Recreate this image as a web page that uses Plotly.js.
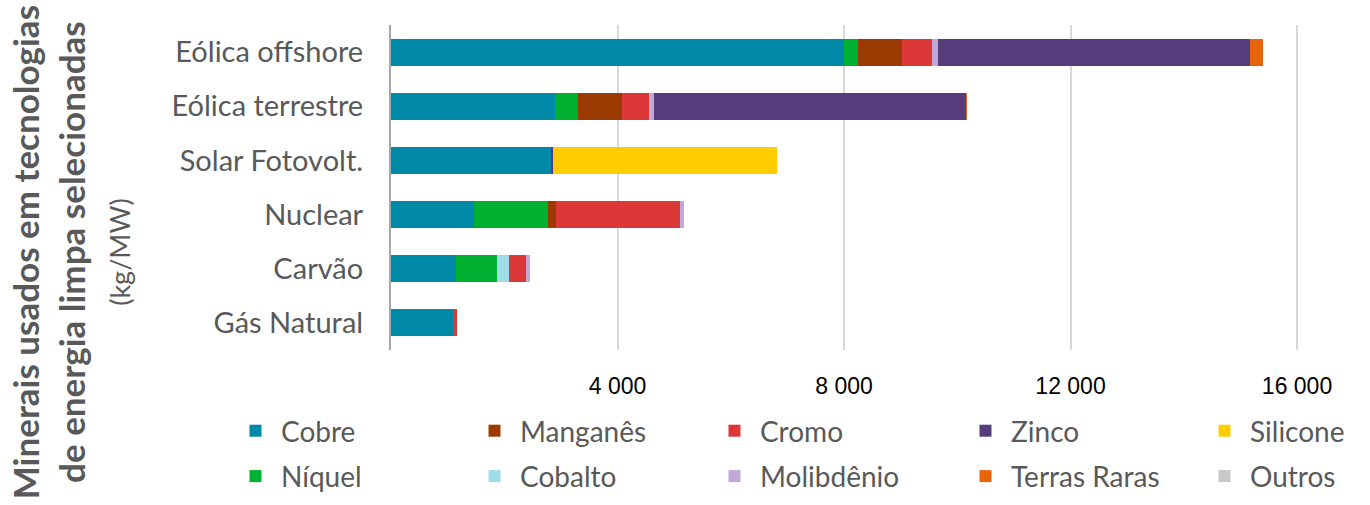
<!DOCTYPE html>
<html>
<head>
<meta charset="utf-8">
<script src="https://cdn.plot.ly/plotly-3.0.1.min.js"></script>
<style>html,body{margin:0;padding:0;background:#fff;}#chart{width:1370px;height:505px;}</style>
</head>
<body>
<div id="chart"></div>
<script>
const categories = ["Eólica offshore", "Eólica terrestre", "Solar Fotovolt.", "Nuclear", "Carvão", "Gás Natural"];
const cobre      = [8000, 2900, 2822, 1473, 1150, 1100];
const niquel     = [240, 404, 0, 1297, 721, 16];
const manganes   = [790, 780, 0, 148, 0, 0];
const cobalto    = [0, 0, 0, 0, 210, 0];
const cromo      = [525, 470, 0, 2190, 308, 48];
const molibdenio = [109, 99, 0, 70, 66, 0];
const zinco      = [5500, 5500, 30, 0, 0, 0];
const terrasRaras = [239, 14, 0, 0, 0, 0];
const silicone   = [0, 0, 3960, 0, 0, 0];
const outros     = [0, 0, 0, 0, 0, 0];
const tickVals = [4000, 8000, 12000, 16000];

// legend column (1..5) and row (1..2) for each series
const series = [
  {name: "Cobre", values: cobre, color: "#0089A7", col: 1, row: 1},
  {name: "Níquel", values: niquel, color: "#00B030", col: 1, row: 2},
  {name: "Manganês", values: manganes, color: "#9C3A04", col: 2, row: 1},
  {name: "Cobalto", values: cobalto, color: "#9EDCE8", col: 2, row: 2},
  {name: "Cromo", values: cromo, color: "#DC3838", col: 3, row: 1},
  {name: "Molibdênio", values: molibdenio, color: "#C0A8D8", col: 3, row: 2},
  {name: "Zinco", values: zinco, color: "#553C7A", col: 4, row: 1},
  {name: "Terras Raras", values: terrasRaras, color: "#E8640A", col: 4, row: 2},
  {name: "Silicone", values: silicone, color: "#FFCC00", col: 5, row: 1},
  {name: "Outros", values: outros, color: "#C8C8C8", col: 5, row: 2}
];

const legendIds = ["legend", "legend2", "legend3", "legend4", "legend5"];

const traces = series.map(s => ({
  type: "bar",
  orientation: "h",
  name: s.name,
  x: s.values,
  y: categories,
  marker: {color: s.color, line: {width: 0}},
  legend: legendIds[s.col - 1],
  legendgroup: s.name,
  legendrank: s.row,
  hoverinfo: "x+name"
}));

const legendFont = {family: "Lato, 'Open Sans', sans-serif", size: 28, color: "#595959"};
const colLeft = [230, 469, 709, 960, 1199];
const legendLayout = {};
colLeft.forEach((px, i) => {
  legendLayout[legendIds[i]] = {
    orientation: "v",
    font: legendFont,
    itemwidth: 41,
    tracegroupgap: 6,
    xref: "container",
    yref: "container",
    x: px / 1370,
    xanchor: "left",
    y: 1 - 406 / 505,
    yanchor: "top",
    traceorder: "grouped",
    bgcolor: "rgba(0,0,0,0)",
    borderwidth: 0
  };
});

const layout = Object.assign({
  width: 1370,
  height: 505,
  margin: {l: 391, r: 56, t: 25, b: 155, autoexpand: false},
  paper_bgcolor: "#fff",
  plot_bgcolor: "#fff",
  barmode: "stack",
  bargap: 0.5,
  showlegend: true,
  separators: ", ",
  xaxis: {
    range: [0, 16300],
    tickvals: tickVals,
    tickformat: ",d",
    showgrid: true,
    gridcolor: "#D9D9D9",
    gridwidth: 2,
    zeroline: false,
    showline: false,
    ticks: "",
    ticklabelstandoff: 20,
    tickfont: {family: "'Liberation Sans', Arial, sans-serif", size: 23, color: "#000"}
  },
  yaxis: {
    autorange: "reversed",
    showline: true,
    linecolor: "#A6A6A6",
    linewidth: 2,
    ticks: "",
    ticklabelstandoff: 20,
    tickfont: {family: "Lato, 'Open Sans', sans-serif", size: 29, color: "#595959"}
  },
  annotations: [{
    xref: "paper", yref: "paper",
    x: -0.347, y: 0.30,
    xanchor: "center", yanchor: "middle",
    textangle: -90,
    showarrow: false,
    align: "center",
    text: "<b>Minerais usados em tecnologias<br>de energia limpa selecionadas</b><br><span style='font-size:27px'>(kg/MW)</span>",
    font: {family: "Lato, 'Open Sans', sans-serif", size: 35, color: "#595959"}
  }]
}, legendLayout);

Plotly.newPlot("chart", traces, layout, {displayModeBar: false, staticPlot: true});
</script>
</body>
</html>
